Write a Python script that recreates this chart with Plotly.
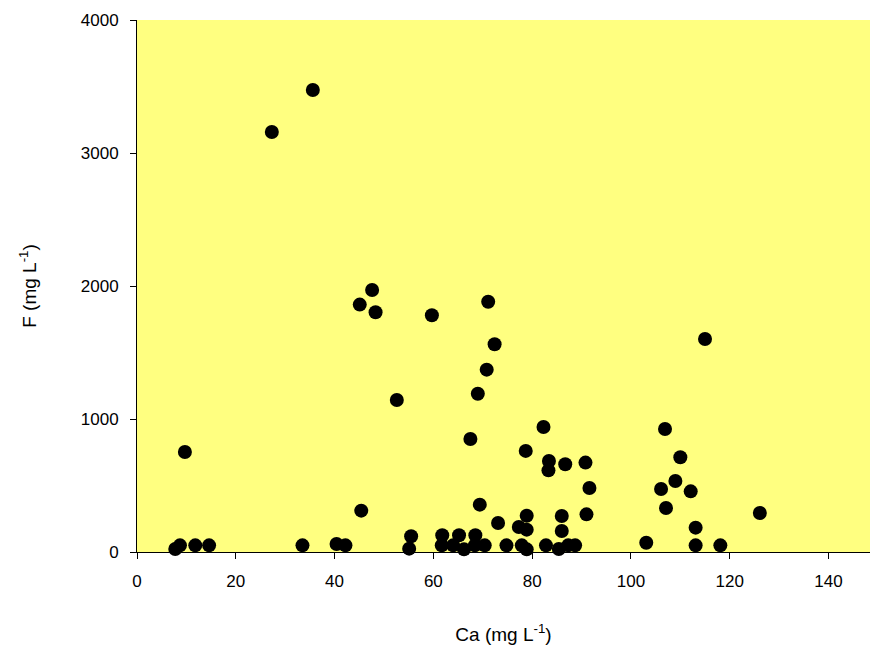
import plotly.graph_objects as go

# Calcium vs fluoride concentrations (mg/L)
ca = [7.75, 8.7, 11.8, 14.6, 9.7, 27.3, 35.6, 33.5, 40.4, 42.2,
      45.4, 45.1, 47.6, 48.3, 52.6, 59.7, 55.5, 55.1, 61.8, 61.7,
      65.2, 64.0, 66.2, 68.5, 68.4, 70.4, 69.4, 73.1, 74.8, 77.3,
      78.9, 78.9, 77.9, 78.9, 67.5, 69.0, 70.8, 71.1, 72.4, 82.3,
      78.7, 83.4, 83.3, 86.7, 90.8, 91.6, 91.0, 86.0, 86.0, 82.8,
      85.4, 87.3, 88.7, 103.1, 106.1, 107.1, 110.0, 109.0, 112.1, 113.1,
      113.1, 118.1, 126.1, 106.9, 115.0]
f = [23, 50, 50, 50, 752, 3158, 3474, 50, 60, 50,
     311, 1860, 1970, 1803, 1143, 1780, 118, 25, 126, 50,
     126, 50, 20, 126, 50, 50, 356, 218, 50, 188,
     273, 168, 50, 20, 850, 1190, 1371, 1882, 1562, 940,
     760, 684, 614, 660, 672, 481, 283, 271, 158, 50,
     23, 50, 50, 70, 474, 331, 712, 534, 456, 183,
     50, 50, 293, 925, 1602]

x_ticks = [0, 20, 40, 60, 80, 100, 120, 140]
y_ticks = [0, 1000, 2000, 3000, 4000]

fig = go.Figure(go.Scatter(
    x=ca, y=f, mode="markers",
    marker=dict(color="black", size=14, line=dict(width=0)),
    cliponaxis=False, showlegend=False,
))

font = dict(family="Liberation Sans, Arial, sans-serif", color="black")

fig.update_layout(
    width=870, height=657,
    margin=dict(l=137, r=0, t=20, b=105),
    paper_bgcolor="white",
    plot_bgcolor="#FFFF80",
    font=dict(size=17, **font),
    xaxis=dict(
        range=[0, 148.4], tickvals=x_ticks, ticks="outside", ticklen=6,
        tickcolor="black", showline=True, linecolor="black", linewidth=1,
        showgrid=False, zeroline=False, tickfont=dict(size=17),
        ticklabelstandoff=8,
        title=dict(text="Ca (mg L<sup>-1</sup>)", font=dict(size=19), standoff=37),
    ),
    yaxis=dict(
        range=[0, 4000], tickvals=y_ticks, ticks="outside", ticklen=6,
        tickcolor="black", showline=True, linecolor="black", linewidth=1,
        showgrid=False, zeroline=False, tickfont=dict(size=17),
        ticklabelstandoff=8,
        title=dict(text="F (mg L<sup>-1</sup>)", font=dict(size=19), standoff=39),
    ),
)

fig.write_html("out.html")
